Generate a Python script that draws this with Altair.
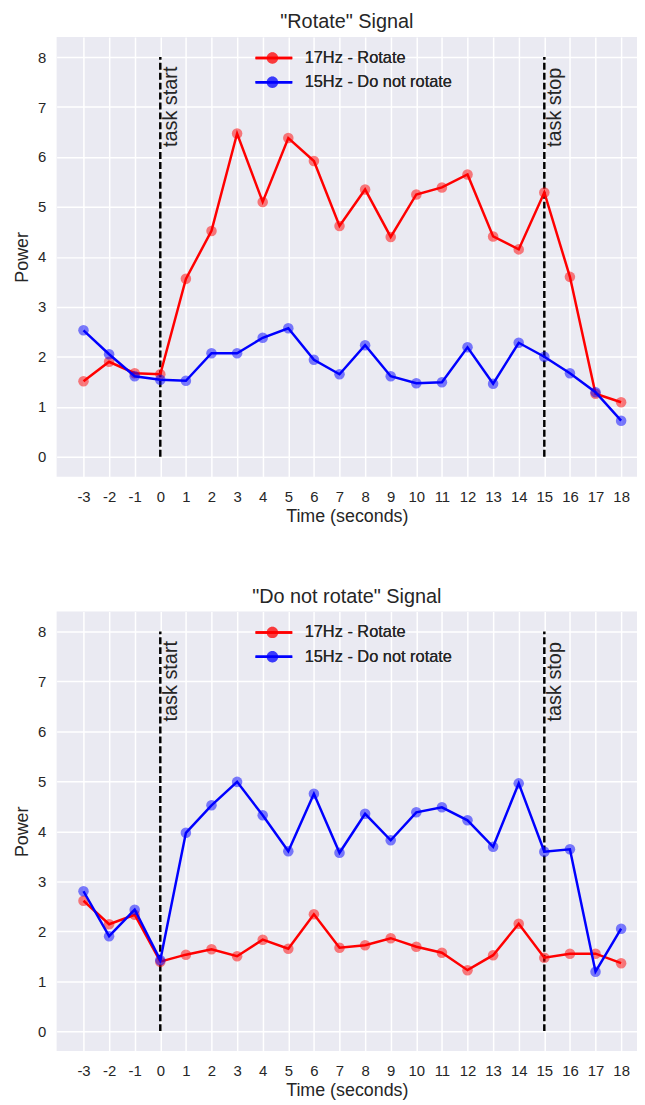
import altair as alt
import pandas as pd

# ---- data ----
times = list(range(-3, 19))
tick_x = list(range(-3, 19))
tick_y = list(range(0, 9))
series_names = ["17Hz - Rotate", "15Hz - Do not rotate"]
series_colors = ["#ff0000", "#0000ff"]

rotate_17 = [1.51, 1.90, 1.67, 1.65, 3.56, 4.52, 6.47, 5.10, 6.38, 5.92, 4.62,
             5.35, 4.40, 5.25, 5.39, 5.65, 4.41, 4.15, 5.29, 3.60, 1.26, 1.09]
rotate_15 = [2.53, 2.05, 1.61, 1.54, 1.52, 2.07, 2.07, 2.38, 2.57, 1.94, 1.65,
             2.23, 1.61, 1.47, 1.49, 2.19, 1.46, 2.28, 2.00, 1.67, 1.29, 0.72]
norot_17 = [2.61, 2.14, 2.33, 1.39, 1.53, 1.64, 1.50, 1.83, 1.65, 2.34, 1.67,
            1.72, 1.86, 1.69, 1.57, 1.22, 1.52, 2.15, 1.47, 1.55, 1.55, 1.36]
norot_15 = [2.80, 1.90, 2.43, 1.42, 3.97, 4.52, 4.99, 4.32, 3.60, 4.75, 3.57,
            4.35, 3.82, 4.38, 4.48, 4.22, 3.69, 4.96, 3.59, 3.64, 1.19, 2.05]

event_x = [0, 15]
event_labels = ["task start", "task stop"]
event_y0 = 0
event_y1 = 8
event_label_y = 6.2

FONT = "Liberation Sans"
TXT = "#262626"

LINE_PATH = "M-1,0H1"
DOT_PATH = "M-0.31,0A0.31,0.31,0,1,0,0.31,0A0.31,0.31,0,1,0,-0.31,0Z"
SYM_SIZE = 1369


def panel(title, v17, v15):
    df = pd.DataFrame({
        "time": times * 2,
        "power": v17 + v15,
        "series": [series_names[0]] * len(times) + [series_names[1]] * len(times),
    })
    ev = pd.DataFrame({
        "time": event_x,
        "y0": [event_y0] * len(event_x),
        "y1": [event_y1] * len(event_x),
        "ly": [event_label_y] * len(event_x),
        "label": event_labels,
    })

    xs = alt.Scale(domain=[-4.05, 18.62], nice=False, zero=False)
    ys = alt.Scale(domain=[-0.4, 8.4], nice=False, zero=False)
    xaxis = alt.Axis(values=tick_x, title="Time (seconds)", labelPadding=13,
                     titlePadding=3, labelFlush=False,
                     labelExpr="'' + datum.value")
    yaxis = alt.Axis(values=tick_y, title="Power", labelPadding=11, titlePadding=6,
                     labelExpr="'' + datum.value")
    cscale = alt.Scale(domain=series_names, range=series_colors)

    common = dict(
        orient="none", legendX=199, legendY=11, title=None,
        symbolSize=SYM_SIZE, clipHeight=20, rowPadding=4.5,
        labelFont=FONT, labelFontSize=16.5, labelFontWeight="normal", labelOffset=11,
    )
    line_legend = alt.Legend(
        symbolType=LINE_PATH, symbolStrokeWidth=2.5, labelColor=TXT, **common
    )
    pt_legend = alt.Legend(
        symbolType=DOT_PATH, symbolOpacity=0.5, symbolStrokeWidth=0,
        labelExpr="''", **common
    )

    base = alt.Chart(df)
    layers = []
    for name in series_names:
        sub = base.transform_filter(alt.datum.series == name)
        layers.append(
            sub.mark_line(strokeWidth=2.5).encode(
                x=alt.X("time:Q", scale=xs, axis=xaxis),
                y=alt.Y("power:Q", scale=ys, axis=yaxis),
                stroke=alt.Stroke("series:N", scale=cscale, legend=line_legend),
            )
        )
        layers.append(
            sub.mark_circle(size=113, opacity=0.5).encode(
                x=alt.X("time:Q", scale=xs, axis=xaxis),
                y=alt.Y("power:Q", scale=ys, axis=yaxis),
                fill=alt.Fill("series:N", scale=cscale, legend=pt_legend),
            )
        )

    rules = alt.Chart(ev).mark_rule(strokeDash=[7, 3], strokeWidth=2.5, color="black").encode(
        x=alt.X("time:Q", scale=xs, axis=xaxis),
        y=alt.Y("y0:Q", scale=ys, axis=yaxis),
        y2="y1:Q",
    )
    texts = alt.Chart(ev).mark_text(
        angle=270, align="left", baseline="top", fontSize=20, font=FONT, color=TXT, dy=1
    ).encode(
        x=alt.X("time:Q", scale=xs, axis=xaxis),
        y=alt.Y("ly:Q", scale=ys, axis=yaxis),
        text="label:N",
    )

    return alt.layer(rules, texts, *layers).properties(
        width=585, height=443,
        title=alt.TitleParams(title, fontSize=20, font=FONT, fontWeight="normal",
                              color=TXT, offset=5),
    ).resolve_scale(stroke="independent", fill="independent")


top = panel('"Rotate" Signal', rotate_17, rotate_15)
bottom = panel('"Do not rotate" Signal', norot_17, norot_15)

chart = alt.vconcat(top, bottom, spacing=62).resolve_scale(
    stroke="independent", fill="independent"
).resolve_legend(stroke="independent", fill="independent").properties(
    padding={"left": 5, "top": 0, "right": 0, "bottom": 0},
).configure_view(
    fill="#EAEAF2", stroke=None
).configure_axis(
    domain=False, ticks=False, grid=True, gridColor="white", gridWidth=1.5,
    labelFont=FONT, labelFontSize=15, labelColor=TXT,
    titleFont=FONT, titleFontSize=18, titleFontWeight="normal", titleColor=TXT,
)

chart.save("out.html", embed_options={"renderer": "svg", "actions": False})
